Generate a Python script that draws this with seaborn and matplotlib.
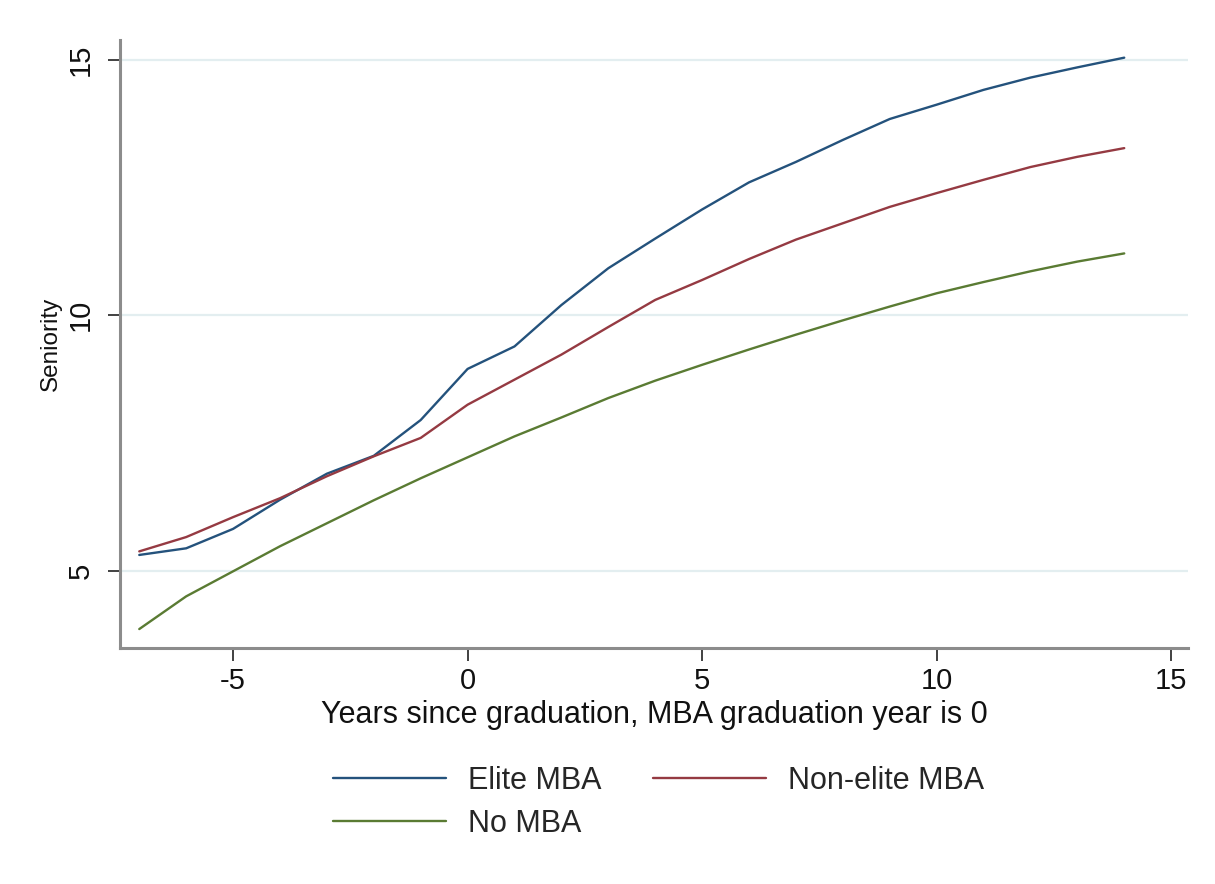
import numpy as np
import pandas as pd
import matplotlib
matplotlib.use("Agg")
import matplotlib.pyplot as plt
import seaborn as sns

years = list(range(-7, 15))
elite = [5.31, 5.44, 5.82, 6.39, 6.90, 7.25, 7.95, 8.95, 9.39, 10.20, 10.92, 11.50,
         12.07, 12.60, 13.00, 13.43, 13.84, 14.12, 14.41, 14.65, 14.85, 15.04]
nonelite = [5.38, 5.66, 6.05, 6.42, 6.85, 7.24, 7.60, 8.25, 8.74, 9.23, 9.77, 10.30,
            10.69, 11.10, 11.48, 11.80, 12.12, 12.39, 12.65, 12.90, 13.10, 13.27]
nomba = [3.86, 4.50, 4.99, 5.48, 5.93, 6.38, 6.81, 7.22, 7.63, 8.00, 8.38, 8.72,
         9.03, 9.33, 9.62, 9.90, 10.17, 10.43, 10.65, 10.86, 11.05, 11.21]
groups = ["Elite MBA", "Non-elite MBA", "No MBA"]
colors = ["#24527c", "#953a42", "#5a7b33"]

df = pd.concat([
    pd.DataFrame({"year": years, "seniority": vals, "group": g})
    for g, vals in zip(groups, [elite, nonelite, nomba])
], ignore_index=True)

sns.set_theme(style="white")
plt.rcParams["font.family"] = ["Liberation Sans", "DejaVu Sans"]
plt.rcParams["axes.unicode_minus"] = False

fig = plt.figure(figsize=(12.15, 8.84), dpi=100)
ax = fig.add_axes([0.0988, 0.267, 0.879, 0.688])

sns.lineplot(data=df, x="year", y="seniority", hue="group", hue_order=groups,
             palette=colors, linewidth=1.7, ax=ax, legend=True)

ax.set_xlim(-7.41, 15.36)
ax.set_ylim(3.49, 15.39)
ax.set_xticks([-5, 0, 5, 10, 15])
ax.set_yticks([5, 10, 15])
ax.grid(axis="y", color="#e3eef0", linewidth=1.6)
ax.grid(axis="x", visible=False)
ax.set_axisbelow(True)

for s in ["top", "right"]:
    ax.spines[s].set_visible(False)
for s in ["left", "bottom"]:
    ax.spines[s].set_color("#8c8c8c")
    ax.spines[s].set_linewidth(2.2)

ax.tick_params(axis="both", which="major", direction="out", length=9, width=1.3,
               color="#333333", labelsize=21, labelcolor="#111111",
               bottom=True, left=True)
ax.tick_params(axis="x", pad=5)
ax.tick_params(axis="y", pad=9)
for lab in ax.get_yticklabels():
    lab.set_rotation(90)
    lab.set_va("center")

ax.set_xlabel("Years since graduation, MBA graduation year is 0", fontsize=22,
              color="#111111", labelpad=3)
ax.set_ylabel("Seniority", fontsize=17.5, color="#111111", labelpad=4)

handles, labels = ax.get_legend_handles_labels()
hmap = dict(zip(labels, handles))
order = ["Elite MBA", "No MBA", "Non-elite MBA"]
ax.legend([hmap[k] for k in order], order, loc="upper center",
          bbox_to_anchor=(0.504, -0.1485), ncol=2, frameon=False, fontsize=22,
          handlelength=3.7, handletextpad=0.72, columnspacing=1.67,
          labelspacing=0.42)

fig.savefig("out.png", dpi=100, facecolor="white")
